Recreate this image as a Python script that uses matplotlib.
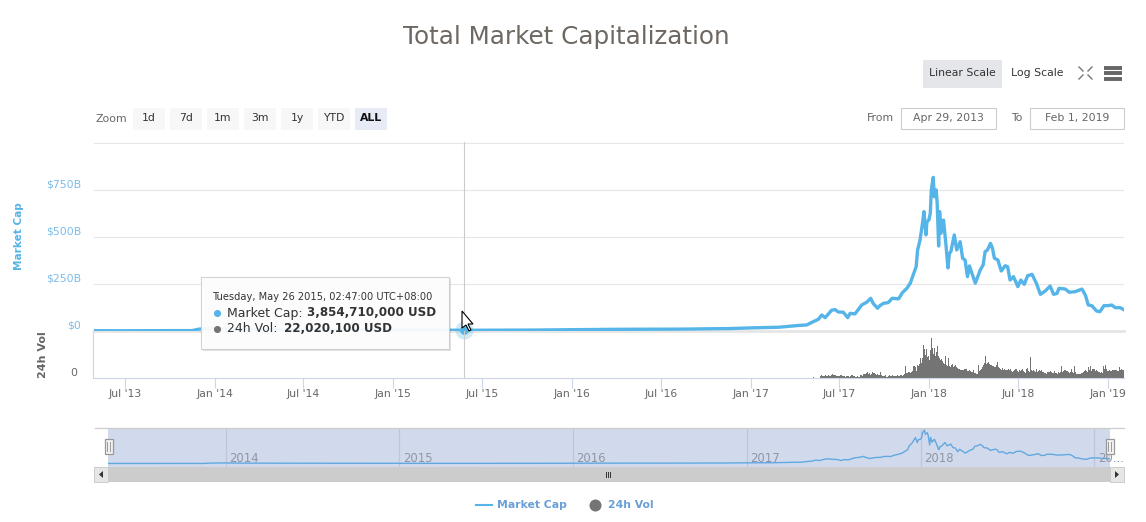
#Loading libraries
import datetime as dt
import numpy as np
import matplotlib
matplotlib.use("Agg")
from matplotlib import pyplot as plt
from matplotlib.patches import Rectangle, Polygon

plt.rcParams["font.family"] = "DejaVu Sans"

# Market cap: days since Apr 29 2013, value in $B
cap_days = [0, 60, 150, 200, 215, 240, 280, 300, 360, 430, 500, 600, 700, 757, 900, 980, 1070, 1200, 1300, 1350, 1400,
            1443, 1457, 1471, 1481, 1488, 1495, 1508, 1515, 1522, 1532, 1541, 1546, 1556, 1570, 1580, 1588, 1593, 1602,
            1607, 1614, 1624, 1632, 1645, 1653,
            1662, 1669, 1675, 1681, 1684, 1689, 1694, 1697, 1701, 1703, 1707, 1710, 1712, 1716, 1718, 1722, 1724, 1727,
            1729, 1732, 1737, 1742, 1746, 1749, 1752, 1759, 1764, 1771, 1776, 1781, 1786, 1790, 1795, 1802,
            1812, 1818, 1822, 1827, 1833, 1837, 1841, 1848, 1855, 1863, 1868, 1873, 1880, 1889, 1895, 1902, 1909, 1918,
            1927, 1935, 1945, 1955, 1962, 1969, 1973, 1986, 1994, 2006, 2020, 2027, 2033, 2040, 2050, 2057, 2065, 2074,
            2081, 2088, 2098, 2106]
cap_values = [1.5, 1.2, 2, 2, 10, 14, 10, 9, 8, 7, 6, 5, 4, 3.85, 5, 7, 9, 10, 13, 17, 20,
              30, 32, 50, 62, 85, 71, 110, 114, 101, 100, 71, 94, 91, 139, 153, 174, 147, 121,
              135, 147, 151, 174, 171, 204,
              227, 254, 298, 342, 431, 484, 573, 635, 511, 581, 590, 627, 750, 817, 714, 750, 679, 452,
              635, 520, 590, 457, 335, 413, 422, 511, 431, 475, 387, 378, 289, 346, 307, 254,
              324, 351, 422, 431, 466, 440, 387, 378, 319, 347, 342, 271, 289, 236, 271, 248, 294, 301,
              253, 195, 213, 239, 195, 200, 227, 223, 206, 209, 223, 191, 138, 135, 106, 103, 135, 135,
              138, 124, 124, 113]

# 24h volume, one value every ~2 days starting at day 1472 (scale of this panel is not labelled)
vol_values = [1, 0, 0, 0, 0, 0, 0,
              2, 3, 2, 2, 2, 3, 2, 2, 3, 2, 2, 3, 4, 3, 3, 3, 2, 2, 2, 2, 3, 3, 2, 2, 2, 1, 2, 2, 2, 1, 2, 3, 3, 2, 2, 1, 1, 2, 1, 1,
              3, 3, 2, 4, 4, 4, 5, 6, 4, 5, 3, 4, 6, 5, 5, 4, 3, 4, 3, 3, 6, 3, 2, 2, 2, 3, 1, 1, 2,
              3, 2, 2, 3, 2, 2, 2, 2, 3, 2, 2,
              3, 3, 2, 3, 4, 12, 5, 5, 6, 6, 5, 6, 7, 12, 12, 11, 7, 13, 12, 14, 20, 15, 20, 33, 29, 23, 29, 21,
              22, 18, 28, 40, 30, 24, 30, 22, 26, 32, 22, 20, 18, 19, 17, 15, 14, 22, 13, 12, 20, 12, 11, 13, 14,
              11, 12, 13, 11, 10, 9, 9, 8, 8, 8, 8, 9, 9, 9, 7, 7, 8, 7, 6, 6, 8, 5, 5, 4, 4, 13,
              7, 8, 9, 11, 13, 15, 22, 14, 15, 16, 14, 13, 13, 12, 12, 11, 11, 13, 16, 11, 10, 9, 8, 10, 8, 9, 8,
              8, 8, 9, 8, 9, 7, 6, 7, 8, 9, 9, 7,
              6, 8, 7, 8, 9, 7, 6, 5, 9, 10, 7, 6, 21,
              8, 7, 8, 7, 6, 9, 6, 7, 8, 7, 8, 6, 6, 5, 5, 4, 6, 6, 6, 7,
              6, 5, 5, 7, 5, 5, 4, 6, 5, 6, 12, 6, 7, 8, 8, 7, 7, 6, 5, 6,
              9, 6, 5, 12, 6, 4, 4, 4, 4, 4, 5, 5, 6, 7, 8, 7, 6, 11, 8, 12,
              7, 9, 9, 9, 7, 8, 7, 6, 6, 5, 6, 5, 12, 9, 13, 9, 7, 7, 8, 7,
              7, 8, 8, 8, 8, 8, 7, 7, 11, 8, 9, 8, 8, 8]

cap_ticks = [0, 250, 500, 750, 1000]
cap_labels = ["$0", "$250B", "$500B", "$750B", ""]
month_ticks = ["2013-07-01", "2014-01-01", "2014-07-01", "2015-01-01", "2015-07-01", "2016-01-01",
               "2016-07-01", "2017-01-01", "2017-07-01", "2018-01-01", "2018-07-01", "2019-01-01"]
month_labels = ["Jul '13", "Jan '14", "Jul '14", "Jan '15", "Jul '15", "Jan '16",
                "Jul '16", "Jan '17", "Jul '17", "Jan '18", "Jul '18", "Jan '19"]
year_ticks = ["2014-01-01", "2015-01-01", "2016-01-01", "2017-01-01", "2018-01-01", "2019-01-01"]
year_labels = ["2014", "2015", "2016", "2017", "2018", "20..."]
zoom_buttons = ["1d", "7d", "1m", "3m", "1y", "YTD", "ALL"]
hover_day = 757
hover_value = 3.85

BLUE = "#55b4e8"
GREY = "#747474"
W, H = 1146, 522
START = dt.datetime(2013, 4, 29)

def px_axes(x0, y0, x1, y1):
    # axes from pixel box, y measured from the top like in the screenshot
    return fig.add_axes([x0 / W, 1 - y1 / H, (x1 - x0) / W, (y1 - y0) / H])

def to_dates(days):
    return [START + dt.timedelta(days=float(d)) for d in days]

def parse(strs):
    return [dt.datetime.strptime(s, "%Y-%m-%d") for s in strs]

fig = plt.figure(figsize=(W / 100, H / 100), dpi=100)
xlim = to_dates([0, 2106])
cap_dates = to_dates(cap_days)

# Main panel
ax = px_axes(94, 142, 1124, 331)
ax.plot(cap_dates, cap_values, color=BLUE, lw=2.4, solid_joinstyle="round", zorder=3)
ax.set_xlim(xlim)
ax.set_ylim(0, 1005)
ax.set_yticks(cap_ticks)
ax.set_yticklabels(cap_labels, color="#7cbcea", fontsize=7.8, va="bottom")
ax.tick_params(axis="y", length=0, pad=9)
ax.set_xticks([])
ax.grid(axis="y", color="#e6e6e6", lw=0.8)
for s in ax.spines.values():
    s.set_visible(False)
ax.axhline(0, color="#e6e6e6", lw=2, zorder=2, clip_on=False)
ax.axvline(to_dates([hover_day])[0], color="#cccccc", lw=0.8, zorder=2)
ax.scatter(to_dates([hover_day]), [hover_value], s=170, color=BLUE, alpha=0.28, lw=0, zorder=4, clip_on=False)
ax.scatter(to_dates([hover_day]), [hover_value], s=40, color=BLUE, lw=0, zorder=5, clip_on=False)
ax.set_ylabel("Market Cap", color=BLUE, fontsize=7.6, fontweight="bold")
ax.yaxis.set_label_coords(-70 / 1030, 0.50)

# Volume panel
ax_vol = px_axes(94, 331, 1124, 378)
ax_vol.spines["left"].set_position(("outward", 1))
vol_days = 1472 + np.arange(len(vol_values)) * 2.045
ax_vol.bar(to_dates(vol_days), vol_values, width=2.05, color=GREY, lw=0, zorder=2)
ax_vol.set_xlim(xlim)
ax_vol.set_ylim(0, 47)
ax_vol.set_yticks([0])
ax_vol.set_yticklabels(["0"], color="#666666", fontsize=7.8, va="bottom")
ax_vol.tick_params(axis="y", length=0, pad=11)
ax_vol.set_xticks(parse(month_ticks))
ax_vol.set_xticklabels(month_labels, color="#666666", fontsize=7.8)
ax_vol.tick_params(axis="x", length=7.2, width=0.8, color="#ccd6eb", pad=1)
ax_vol.axvline(to_dates([hover_day])[0], color="#cccccc", lw=0.8, zorder=1)
ax_vol.patch.set_alpha(0)
for name in ["top", "right"]:
    ax_vol.spines[name].set_visible(False)
ax_vol.spines["left"].set_color("#ccd6eb")
ax_vol.spines["bottom"].set_color("#ccd6eb")
ax_vol.set_ylabel("24h Vol", color="#666666", fontsize=8, fontweight="bold")
ax_vol.yaxis.set_label_coords(-46 / 1030, 0.5)

# Navigator
ax_nav = px_axes(108, 428, 1110, 467)
ax_nav.set_facecolor("#d1daec")
ax_nav.plot(cap_dates, cap_values, color="#62a8e0", lw=1)
ax_nav.set_xlim(xlim)
ax_nav.set_ylim(-85, 866)
ax_nav.set_yticks([])
ax_nav.set_xticks([])
for d, lab in zip(parse(year_ticks), year_labels):
    ax_nav.axvline(d, color="#bcc7da", lw=0.9, zorder=1)
    ax_nav.annotate(lab, (d, 0), xytext=(2.5, -1), textcoords="offset points", color="#8f96a3", fontsize=8.4,
                    va="bottom", annotation_clip=False)
for s in ax_nav.spines.values():
    s.set_visible(False)

# Everything around the chart (buttons, tooltip, legend), in screenshot pixels
ui = fig.add_axes([0, 0, 1, 1], zorder=10)
ui.set_xlim(0, W)
ui.set_ylim(H, 0)
ui.axis("off")

ui.text(566, 37, "Total Market Capitalization", ha="center", va="center", color="#6e6863", fontsize=17.7)
ui.text(95, 118.5, "Zoom", color="#666666", fontsize=7.8, va="center")
for i, lab in enumerate(zoom_buttons):
    x = 133 + i * 37
    sel = lab == "ALL"
    ui.add_patch(Rectangle((x, 108), 32, 22, fc="#e6ebf5" if sel else "#f7f7f7", lw=0))
    ui.text(x + 16, 118, lab, ha="center", va="center", color="#111111" if sel else "#333333", fontsize=7.8,
            fontweight="bold" if sel else "normal")

ui.add_patch(Rectangle((923, 60), 79, 28, fc="#e4e6ea", lw=0))
ui.text(962.5, 72.5, "Linear Scale", ha="center", va="center", color="#333333", fontsize=7.8)
ui.text(1037.5, 72.5, "Log Scale", ha="center", va="center", color="#333333", fontsize=7.8)
for x0, y0, dx, dy in [(1079, 67, 1, 1), (1092, 67, -1, 1), (1079, 79, 1, -1), (1092, 79, -1, -1)]:
    ui.plot([x0, x0 + dx * 4], [y0, y0 + dy * 4], color="#777777", lw=1)
for y in [67.5, 73, 78.5]:
    ui.plot([1103.5, 1122], [y, y], color="#666666", lw=2.8, solid_capstyle="butt")

ui.text(894, 118, "From", ha="right", va="center", color="#666666", fontsize=7.8)
ui.text(1022, 118, "To", ha="right", va="center", color="#666666", fontsize=7.8)
for x0, x1, lab in [(901, 996, "Apr 29, 2013"), (1030, 1124, "Feb 1, 2019")]:
    ui.add_patch(Rectangle((x0, 108), x1 - x0, 21, fc="white", ec="#cccccc", lw=0.8))
    ui.text((x0 + x1) / 2, 118, lab, ha="center", va="center", color="#666666", fontsize=7.8)

# Tooltip
ui.add_patch(Rectangle((203, 279), 248, 72, fc="#000000", alpha=0.12, lw=0))
ui.add_patch(Rectangle((201, 277), 248, 72, fc="white", alpha=0.93, ec="#cfcfcf", lw=0.8))
ui.text(212, 297.5, "Tuesday, May 26 2015, 02:47:00 UTC+08:00", color="#333333", fontsize=7.15, va="center")
ui.scatter([217], [313], s=26, color=BLUE, lw=0)
ui.scatter([217], [329], s=26, color=GREY, lw=0)
ui.text(227, 313, "Market Cap:", color="#333333", fontsize=9, va="center")
ui.text(307, 313, "3,854,710,000 USD", color="#333333", fontsize=8.6, va="center", fontweight="bold")
ui.text(227, 329, "24h Vol:", color="#333333", fontsize=9, va="center")
ui.text(284, 329, "22,020,100 USD", color="#333333", fontsize=8.6, va="center", fontweight="bold")
ui.add_patch(Polygon([(462, 311), (462, 328), (466, 325), (469, 331), (471, 330), (468, 324), (473, 324)],
                     fc="white", ec="black", lw=0.8))

# Navigator chrome and scrollbar
ui.plot([95, 1124], [427.5, 427.5], color="#cccccc", lw=0.9)
ui.add_patch(Rectangle((94, 467), 1030, 15, fc="#cccccc", lw=0))
ui.add_patch(Rectangle((94, 467), 14, 15, fc="#e6e6e6", ec="#cccccc", lw=0.7))
ui.add_patch(Rectangle((1110, 467), 14, 15, fc="#e6e6e6", ec="#cccccc", lw=0.7))
ui.add_patch(Polygon([(103, 471), (103, 478), (99, 474.5)], fc="#333333", lw=0))
ui.add_patch(Polygon([(1115, 471), (1115, 478), (1119, 474.5)], fc="#333333", lw=0))
for x in [606, 608, 610]:
    ui.plot([x, x], [472, 477], color="#333333", lw=0.7)
for xc in [108.5, 1109.5]:
    ui.add_patch(Rectangle((xc - 4, 439), 8, 15, fc="#f2f2f2", ec="#999999", lw=0.9))
    for dx in [-1.2, 1.2]:
        ui.plot([xc + dx, xc + dx], [442, 451], color="#999999", lw=0.7)

# Legend
ui.plot([476, 492], [505, 505], color=BLUE, lw=1.5)
ui.text(497, 505, "Market Cap", color="#6a9fd8", fontsize=7.8, fontweight="bold", va="center")
ui.scatter([595], [505], s=75, color=GREY, lw=0)
ui.text(608, 505, "24h Vol", color="#6a9fd8", fontsize=7.8, fontweight="bold", va="center")

fig.savefig("out.png", dpi=100)
